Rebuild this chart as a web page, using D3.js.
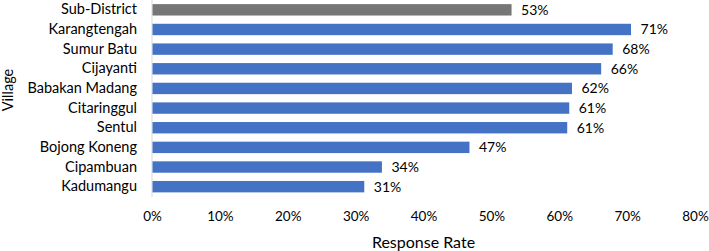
<!DOCTYPE html>
<html>
<head>
<meta charset="utf-8">
<script src="https://cdn.jsdelivr.net/npm/d3@7"></script>
<style>
  body { margin: 0; background: #fff; }
  text { font-family: Lato, "Open Sans", sans-serif; fill: #000; }
</style>
</head>
<body>
<div id="chart"></div>
<script>
// data
const villages = ["Sub-District", "Karangtengah", "Sumur Batu", "Cijayanti", "Babakan Madang",
                  "Citaringgul", "Sentul", "Bojong Koneng", "Cipambuan", "Kadumangu"];
const rates = [0.529, 0.705, 0.678, 0.661, 0.618, 0.614, 0.611, 0.467, 0.338, 0.312];
const rateLabels = ["53%", "71%", "68%", "66%", "62%", "61%", "61%", "47%", "34%", "31%"];
const xTicks = [0, 0.1, 0.2, 0.3, 0.4, 0.5, 0.6, 0.7, 0.8];

let data = villages.map((v, i) => ({village: v, rate: rates[i], label: rateLabels[i]}));

// dimensions
let margin = {top: 0, right: 14, bottom: 54, left: 152},
    width = 709 - margin.left - margin.right,
    height = 251 - margin.top - margin.bottom;

let svg = d3.select("#chart")
    .append("svg")
    .attr("width", 709)
    .attr("height", 251)
    .append("g")
    .attr("transform", "translate(" + margin.left + "," + margin.top + ")");

let x = d3.scaleLinear()
    .domain([0, 0.8])
    .range([0, width]);

let y = d3.scaleBand()
    .domain(villages)
    .range([0, 196.5])
    .paddingInner(0.42)
    .paddingOuter(0.21);

// x axis (labels only)
let xAxis = svg.append("g")
    .attr("transform", "translate(0," + height + ")")
    .call(d3.axisBottom(x).tickValues(xTicks).tickFormat(d3.format(".0%")).tickSize(0).tickPadding(14));
xAxis.select(".domain").remove();
xAxis.selectAll("text")
    .style("font-size", "13.5px")
    .style("font-family", "Lato, sans-serif")
    .attr("fill", "#000");

// y axis
let yAxis = svg.append("g")
    .call(d3.axisLeft(y).tickSize(0).tickPadding(15));
yAxis.select(".domain").remove();
yAxis.selectAll("text")
    .style("font-size", "14.5px")
    .style("font-family", "Lato, sans-serif")
    .attr("fill", "#000");

svg.append("line")
    .attr("x1", 0).attr("x2", 0)
    .attr("y1", 0).attr("y2", 197)
    .attr("stroke", "#d9d9d9")
    .attr("stroke-width", 1);

// bars
svg.append("g")
    .selectAll("rect")
    .data(data)
    .enter()
    .append("rect")
    .attr("x", x(0) + 0.5)
    .attr("y", d => y(d.village))
    .attr("width", d => x(d.rate) - x(0))
    .attr("height", y.bandwidth())
    .attr("fill", (d, i) => i === 0 ? "#767676" : "#4472c4");

// value labels
svg.append("g")
    .selectAll("text")
    .data(data)
    .enter()
    .append("text")
    .attr("x", d => x(d.rate) + 10)
    .attr("y", d => y(d.village) + y.bandwidth() / 2)
    .attr("dy", "0.35em")
    .style("font-size", "14px")
    .text(d => d.label);

// axis titles
svg.append("text")
    .attr("x", x(0.4))
    .attr("y", 248)
    .attr("text-anchor", "middle")
    .style("font-size", "16px")
    .text("Response Rate");

svg.append("text")
    .attr("transform", "translate(" + (-margin.left + 13) + ",90) rotate(-90)")
    .attr("text-anchor", "middle")
    .style("font-size", "14.5px")
    .text("Village");
</script>
</body>
</html>
